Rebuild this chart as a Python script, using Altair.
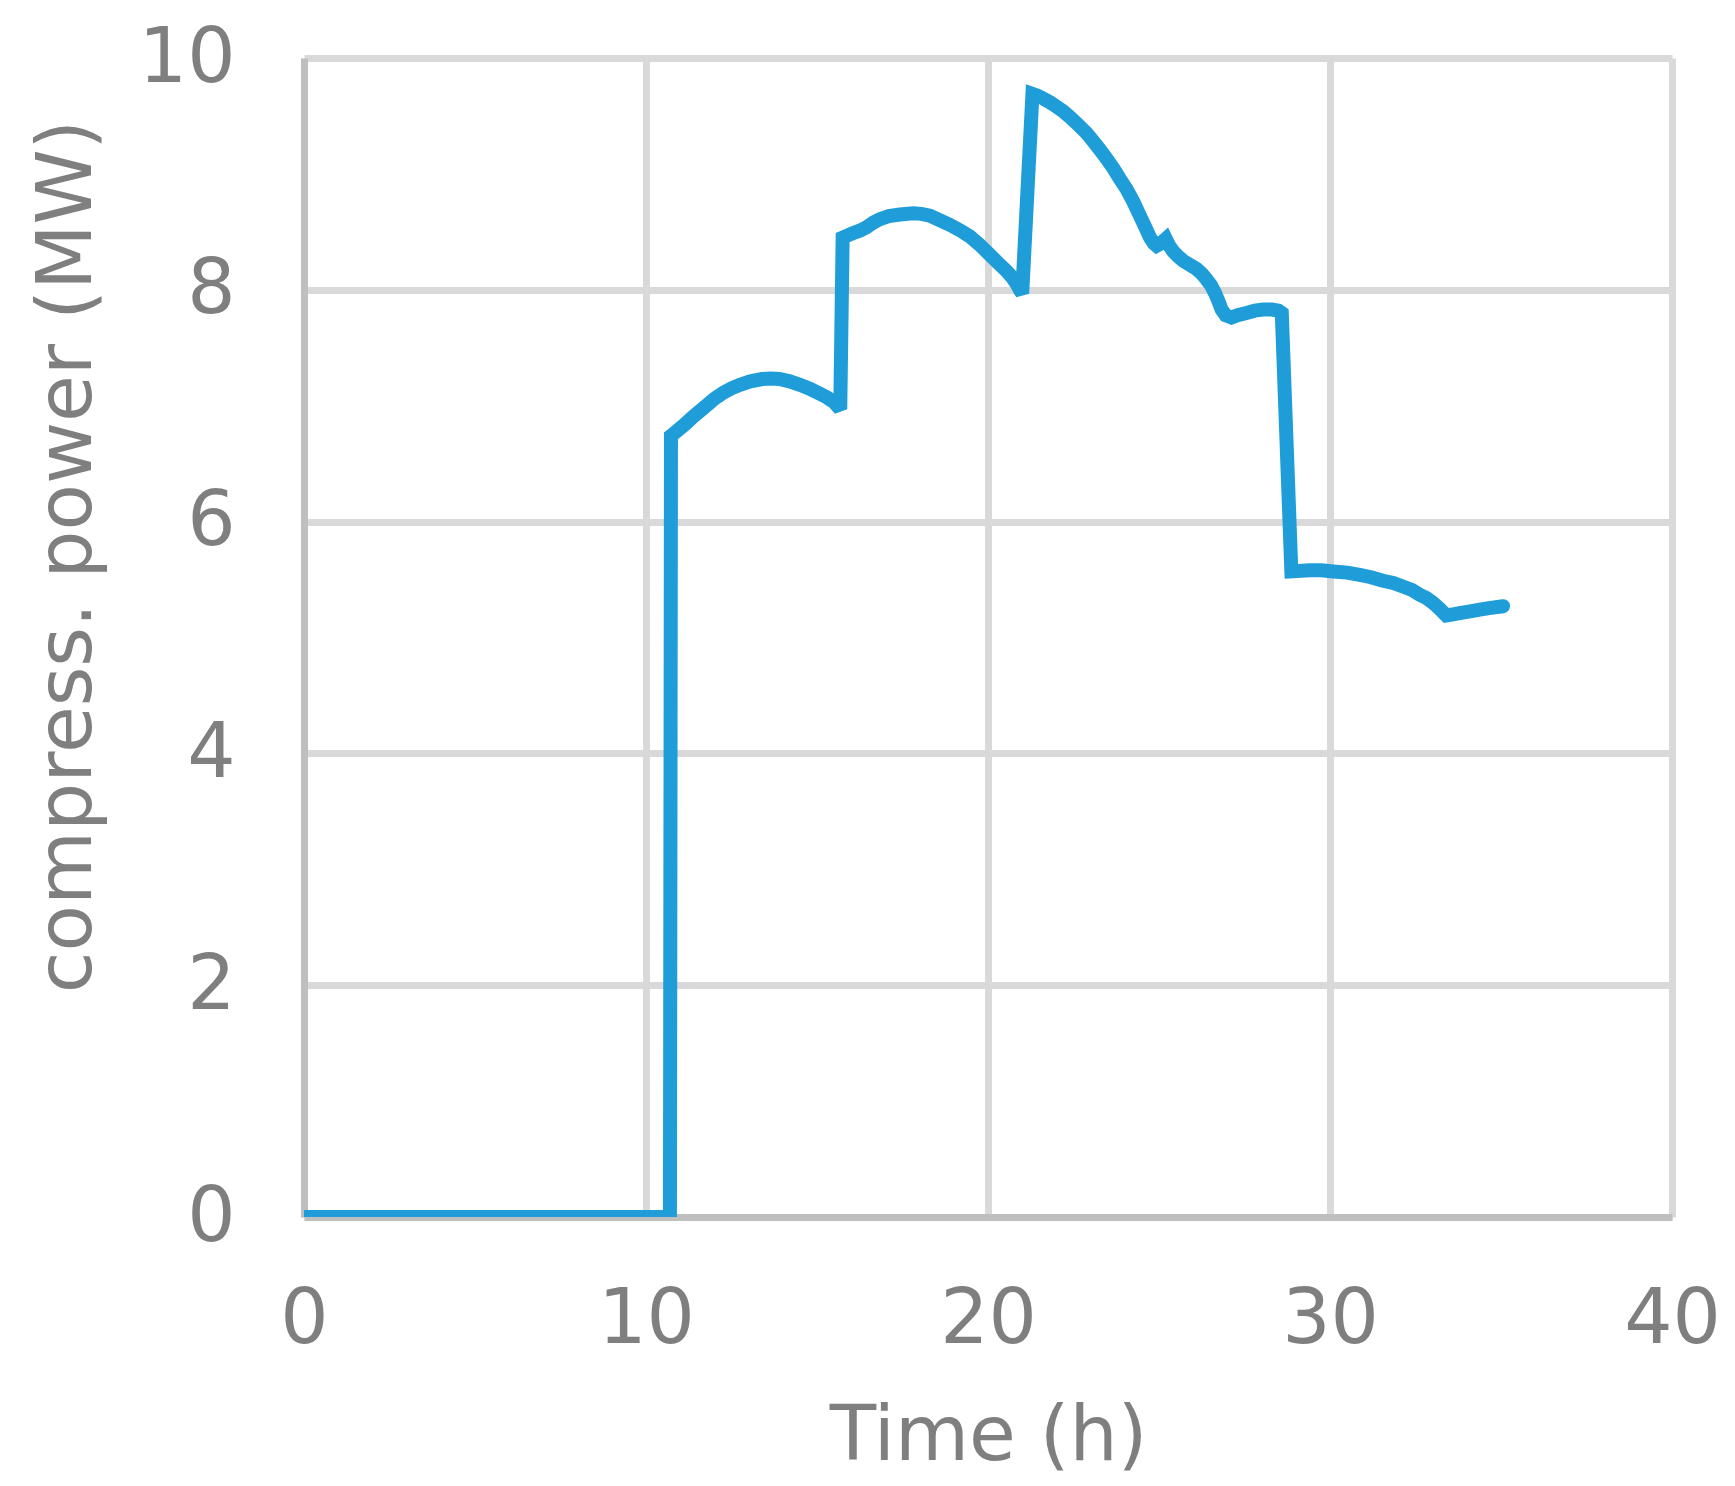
import altair as alt
import pandas as pd

time_h = [0, 10.70, 10.73, 10.9, 11.1, 11.25, 11.4, 11.6, 11.8, 12.0, 12.25, 12.5, 12.75,
          13.05, 13.4, 13.65, 13.9, 14.2, 14.5, 14.8, 15.1, 15.3, 15.5, 15.62, 15.68,
          15.75, 15.9, 16.06, 16.25, 16.45, 16.65, 16.84, 17.1, 17.43, 17.82, 18.05,
          18.30, 18.6, 18.89, 19.2, 19.47, 19.75, 20.06, 20.3, 20.55, 20.7, 20.84,
          20.93, 21.0,
          21.30, 21.45, 21.62, 21.8, 22.01, 22.2, 22.40, 22.65, 22.89, 23.08, 23.27,
          23.46, 23.66, 23.85, 24.05, 24.25, 24.44, 24.6, 24.74, 24.85, 24.93, 25.05,
          25.20, 25.3, 25.42, 25.55, 25.71, 25.9, 26.10, 26.25, 26.39, 26.52, 26.64,
          26.74, 26.83, 26.95, 27.12, 27.3, 27.56, 27.8, 28.05, 28.3, 28.49, 28.59,
          28.87, 29.41, 29.75, 30.09, 30.5, 30.87, 31.2, 31.55, 31.85, 32.13, 32.4,
          32.62, 32.82, 33.01, 33.2, 33.40, 33.6, 33.79, 34.1, 34.38, 34.7, 35.06]
power_mw = [0, 0, 6.74, 6.78, 6.83, 6.87, 6.91, 6.96, 7.01, 7.06, 7.11, 7.15, 7.18,
            7.21, 7.23, 7.235, 7.23, 7.21, 7.18, 7.145, 7.10, 7.07, 7.03, 6.99, 6.97,
            8.45, 8.47, 8.49, 8.51, 8.54, 8.58, 8.61, 8.635, 8.65, 8.66, 8.655,
            8.64, 8.60, 8.56, 8.51, 8.46, 8.39, 8.30, 8.23, 8.16, 8.11, 8.05,
            8.00, 7.97,
            9.69, 9.675, 9.65, 9.62, 9.58, 9.54, 9.49, 9.42, 9.35, 9.28, 9.21,
            9.135, 9.05, 8.96, 8.87, 8.76, 8.64, 8.54, 8.45, 8.40, 8.38, 8.40,
            8.44, 8.38, 8.33, 8.29, 8.25, 8.215, 8.18, 8.14, 8.09, 8.04, 7.97,
            7.90, 7.83, 7.78, 7.76, 7.78, 7.80, 7.82, 7.83, 7.83, 7.82, 7.80,
            5.57, 5.58, 5.58, 5.57, 5.56, 5.54, 5.52, 5.49, 5.47, 5.44, 5.41,
            5.37, 5.34, 5.30, 5.25, 5.19, 5.20, 5.21, 5.225, 5.24, 5.255, 5.27]
x_ticks = [0, 10, 20, 30, 40]
y_ticks = [0, 2, 4, 6, 8, 10]

df = pd.DataFrame({"t": time_h, "p": power_mw, "i": list(range(len(time_h)))})

FONT = "DejaVu Sans"
GRAY = "#7f7f7f"

chart = alt.Chart(df).mark_line(
    color="#1f9dd9", strokeWidth=14, strokeCap="round", strokeJoin="miter",
    strokeMiterLimit=2, clip=True
).encode(
    x=alt.X("t:Q", scale=alt.Scale(domain=[0, 40], nice=False, zero=False),
            axis=alt.Axis(values=x_ticks, title="Time (h)", ticks=False, tickSize=0,
                          labelPadding=65, titleY=242, titleBaseline="alphabetic",
                          titleX=684)),
    y=alt.Y("p:Q", scale=alt.Scale(domain=[0, 10], nice=False),
            axis=alt.Axis(values=y_ticks, title="compress. power (MW)", ticks=False,
                          tickSize=0, labelPadding=69, titleAngle=270,
                          titleX=-214, titleY=498, titleBaseline="alphabetic",
                          titleAlign="center")),
    order="i:Q",
).properties(
    width=1368, height=1159,
    autosize=alt.AutoSizeParams(type="none"),
    padding={"left": 296, "top": 50, "right": 50, "bottom": 266},
).configure_view(stroke=None).configure_axis(
    labelFont=FONT, titleFont=FONT, labelFontSize=76, titleFontSize=76,
    labelColor=GRAY, titleColor=GRAY, titleFontWeight="normal",
    gridColor="#d9d9d9", gridWidth=7, domainColor="#bfbfbf", domainWidth=7,
    labelFlush=False, labelOverlap=False,
)

chart.save("out.html", embed_options={"renderer": "svg", "actions": False})
